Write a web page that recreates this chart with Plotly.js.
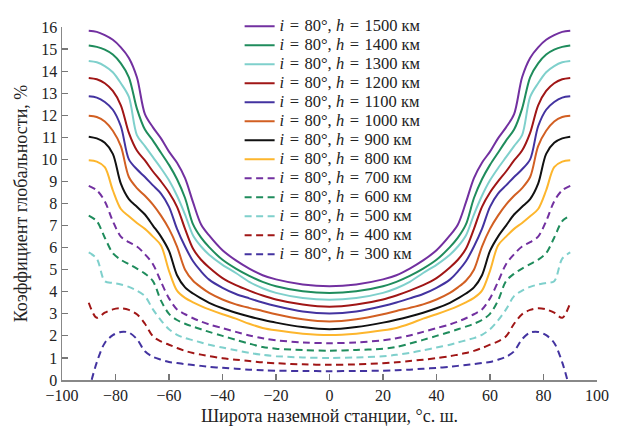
<!DOCTYPE html>
<html>
<head>
<meta charset="utf-8">
<script src="https://cdn.plot.ly/plotly-3.0.1.min.js"></script>
<style>html,body{margin:0;padding:0;background:#fff;}#chart{width:620px;height:431px;}</style>
</head>
<body>
<div id="chart"></div>
<script>
const lat = [-90,-87,-84,-81,-78,-75,-72,-69,-66,-63,-60,-57,-54,-51,-48,-45,-40,-35,-30,-25,-20,-10,0,10,20,25,30,35,40,45,48,51,54,57,60,63,66,69,72,75,78,81,84,87,90];

const h1500 = [15.83,15.78,15.63,15.42,15.08,14.6,13.72,12.05,11.45,10.95,10.35,9.85,9.15,8.05,7.05,6.55,5.88,5.42,5.05,4.75,4.56,4.33,4.25,4.33,4.56,4.75,5.05,5.42,5.88,6.55,7.05,8.05,9.15,9.85,10.35,10.95,11.45,12.05,13.72,14.6,15.08,15.42,15.63,15.78,15.83];
const h1400 = [15.16,15.1,14.97,14.75,14.35,13.72,12.3,11.35,10.85,10.3,9.75,9.1,8.25,7.05,6.45,6.02,5.45,5.05,4.72,4.45,4.25,4.02,3.94,4.02,4.25,4.45,4.72,5.05,5.45,6.02,6.45,7.05,8.25,9.1,9.75,10.3,10.85,11.35,12.3,13.72,14.35,14.75,14.97,15.1,15.16];
const h1300 = [14.46,14.4,14.23,13.95,13.45,12.83,11.1,10.6,10.1,9.6,9.05,8.35,7.5,6.55,6.05,5.68,5.22,4.85,4.45,4.16,3.95,3.72,3.64,3.72,3.95,4.16,4.45,4.85,5.22,5.68,6.05,6.55,7.5,8.35,9.05,9.6,10.1,10.6,11.1,12.83,13.45,13.95,14.23,14.4,14.46];
const h1200 = [13.69,13.63,13.45,13.1,12.45,11.2,10.4,9.95,9.45,9.0,8.5,7.85,6.85,5.95,5.45,5.1,4.62,4.3,4.05,3.83,3.65,3.42,3.32,3.42,3.65,3.83,4.05,4.3,4.62,5.1,5.45,5.95,6.85,7.85,8.5,9.0,9.45,9.95,10.4,11.2,12.45,13.1,13.45,13.63,13.69];
const h1100 = [12.86,12.8,12.6,12.25,11.5,10.0,9.55,9.2,8.82,8.45,7.85,6.85,6.05,5.38,4.92,4.55,4.18,3.9,3.7,3.51,3.35,3.1,3.01,3.1,3.35,3.51,3.7,3.9,4.18,4.55,4.92,5.38,6.05,6.85,7.85,8.45,8.82,9.2,9.55,10.0,11.5,12.25,12.6,12.8,12.86];
const h1000 = [11.98,11.92,11.72,11.3,10.6,9.2,8.7,8.35,7.95,7.45,6.85,6.05,5.0,4.5,4.2,3.95,3.65,3.43,3.27,3.13,2.98,2.75,2.65,2.75,2.98,3.13,3.27,3.43,3.65,3.95,4.2,4.5,5.0,6.05,6.85,7.45,7.95,8.35,8.7,9.2,10.6,11.3,11.72,11.92,11.98];
const h900 = [11.03,10.95,10.75,10.25,8.9,8.2,7.85,7.5,7.0,6.5,5.85,4.75,4.2,3.92,3.7,3.5,3.25,3.05,2.88,2.73,2.6,2.4,2.3,2.4,2.6,2.73,2.88,3.05,3.25,3.5,3.7,3.92,4.2,4.75,5.85,6.5,7.0,7.5,7.85,8.2,8.9,10.25,10.75,10.95,11.03];
const h800 = [9.96,9.9,9.65,8.6,7.75,7.42,7.12,6.85,6.5,6.1,4.95,4.05,3.72,3.52,3.35,3.2,2.98,2.78,2.55,2.36,2.25,2.1,2.04,2.1,2.25,2.36,2.55,2.78,2.98,3.2,3.35,3.52,3.72,4.05,4.95,6.1,6.5,6.85,7.12,7.42,7.75,8.6,9.65,9.9,9.96];
const h700 = [8.8,8.6,8.1,7.2,6.5,6.25,6.05,5.7,5.25,4.45,3.7,3.2,2.98,2.8,2.65,2.52,2.35,2.18,2.02,1.89,1.8,1.7,1.67,1.7,1.8,1.89,2.02,2.18,2.35,2.52,2.65,2.8,2.98,3.2,3.7,4.45,5.25,5.7,6.05,6.25,6.5,7.2,8.1,8.6,8.8];
const h600 = [7.45,7.2,6.45,5.75,5.45,5.25,5.05,4.82,4.48,3.6,3.0,2.72,2.55,2.42,2.3,2.18,2.0,1.82,1.65,1.5,1.42,1.36,1.33,1.36,1.42,1.5,1.65,1.82,2.0,2.18,2.3,2.42,2.55,2.72,3.0,3.6,4.48,4.82,5.05,5.25,5.45,5.75,6.45,7.2,7.45];
const h500 = [5.78,5.5,4.48,4.4,4.33,4.22,4.05,3.8,3.2,2.7,2.3,2.05,1.9,1.8,1.7,1.6,1.47,1.35,1.23,1.14,1.08,1.02,1.0,1.02,1.08,1.14,1.23,1.35,1.47,1.6,1.7,1.8,1.9,2.05,2.3,2.7,3.2,3.8,4.05,4.22,4.33,4.4,4.48,5.5,5.78];
const h400 = [3.5,2.82,3.05,3.2,3.25,3.18,2.98,2.55,1.98,1.75,1.6,1.45,1.32,1.22,1.15,1.08,0.99,0.92,0.86,0.8,0.76,0.71,0.69,0.71,0.76,0.8,0.86,0.92,0.99,1.08,1.15,1.22,1.32,1.45,1.6,1.75,1.98,2.55,2.98,3.18,3.25,3.2,3.05,2.82,3.5];
const h300 = [-0.5,0.8,1.68,2.03,2.18,2.15,1.85,1.3,1.05,0.92,0.82,0.77,0.72,0.68,0.64,0.6,0.55,0.51,0.47,0.44,0.42,0.41,0.4,0.41,0.42,0.44,0.47,0.51,0.55,0.6,0.64,0.68,0.72,0.77,0.82,0.92,1.05,1.3,1.85,2.15,2.18,2.03,1.68,0.8,-0.5];

const heights = [1500,1400,1300,1200,1100,1000,900,800,700,600,500,400,300];
const series = [h1500,h1400,h1300,h1200,h1100,h1000,h900,h800,h700,h600,h500,h400,h300];
const colors = ['#7230a0','#1f8c5c','#7fd0cc','#a01616','#4333a0','#d25f22','#111111','#fdb62d',
                '#7230a0','#1f8c5c','#7fd0cc','#a01616','#4333a0'];

const traces = series.map((ys, k) => ({
  type: 'scatter', mode: 'lines',
  x: lat, y: ys,
  name: '<span style="font-size:16.5px"><i>i</i>\u2004=\u200480°, <i>h</i>\u2004=\u2004' + heights[k] + ' км</span>',
  line: {color: colors[k], width: 2, shape: 'spline', smoothing: 0.9,
         dash: heights[k] <= 700 ? '7px,4.5px' : 'solid'}
}));

const serif = '"Liberation Serif", "Times New Roman", serif';
const layout = {
  width: 620, height: 431,
  margin: {l: 62, r: 23, t: 18, b: 51},
  paper_bgcolor: '#fff', plot_bgcolor: '#fff',
  font: {family: serif, size: 16, color: '#222'},
  showlegend: true,
  legend: {x: 0.332, xanchor: 'left', y: 1.043, yanchor: 'top', maxheight: 600,
           bgcolor: 'rgba(0,0,0,0)', font: {family: serif, size: 12.2, color: '#222'},
           tracegroupgap: 0, itemwidth: 30},
  xaxis: {range: [-100, 100], dtick: 20, tick0: 0, ticks: 'inside', ticklen: 6, tickwidth: 1.2,
          tickcolor: '#777', showline: true, linecolor: '#888', linewidth: 1.5,
          showgrid: false, zeroline: false,
          title: {text: 'Широта наземной станции, °с. ш.', standoff: 6, font: {family: serif, size: 18}}},
  yaxis: {range: [0, 16], dtick: 1, tick0: 0, ticks: 'inside', ticklen: 6, tickwidth: 1.2,
          tickcolor: '#777', showline: true, linecolor: '#888', linewidth: 1.5,
          showgrid: false, zeroline: false,
          title: {text: 'Коэффициент глобальности, %', standoff: 9, font: {family: serif, size: 18}}}
};

Plotly.newPlot('chart', traces, layout, {displayModeBar: false, staticPlot: true});
</script>
</body>
</html>
